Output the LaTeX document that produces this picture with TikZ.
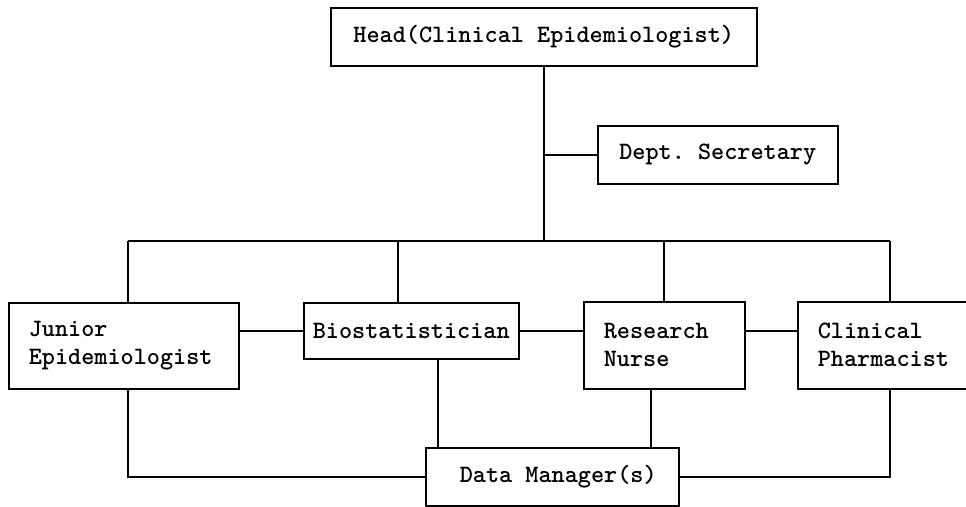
\documentclass[tikz,border=0pt]{standalone}
\usetikzlibrary{positioning}
\begin{document}
\begin{tikzpicture}[x=1pt,y=-1pt,line width=1.5pt,
  box/.style={draw,anchor=north west,inner xsep=20pt,inner ysep=0pt,
    font=\fontsize{25}{28}\selectfont\ttfamily\bfseries\frenchspacing}]
\useasboundingbox (0,0) rectangle (966,506);
\clip (0,0) rectangle (966,506);
% boxes
\node[box,minimum width=426pt,minimum height=58pt] (head) at (330,7) {Head(Clinical Epidemiologist)};
\node[box,minimum width=240pt,minimum height=58pt] (sec) at (597,125) {Dept. Secretary};
\node[box,text width=190pt,minimum height=86pt] (junior) at (8,302) {Junior\\Epidemiologist};
\node[box,inner xsep=0pt,minimum width=215pt,minimum height=56pt] (bio) at (303,302) {Biostatistician};
\node[box,text width=121pt,minimum height=87pt] (nurse) at (583,301) {Research\\Nurse};
\node[box,text width=140pt,minimum height=87pt] (pharm) at (797,301) {Clinical\\Pharmacist};
\node[box,inner xsep=0pt,minimum width=253pt,minimum height=58pt] (dm) at (425,447) {\hspace*{12pt}Data Manager(s)};
% bus
\coordinate (busL) at (128,241);
\coordinate (busR) at (890,241);
\coordinate (bioT) at (398,241);
\coordinate (nurseT) at (664,241);
\coordinate (bioB) at (438,358);
\coordinate (nurseB) at (651,388);
\draw (head.south) -- (head.south |- busL);
\draw (sec.west) -- (sec.west -| head.south);
\draw (busL) -- (busR);
\draw (busL) -- (busL |- junior.north);
\draw (bioT) -- (bioT |- bio.north);
\draw (nurseT) -- (nurseT |- nurse.north);
\draw (busR) -- (busR |- pharm.north);
% sideways
\draw (junior.east |- bio.west) -- (bio.west);
\draw (bio.east) -- (bio.east -| nurse.west);
\draw (bio.east -| nurse.east) -- (bio.east -| pharm.west);
% down to data manager
\draw (busL |- junior.south) -- (busL |- dm.west) -- (dm.west);
\draw (bioB) -- (bioB |- dm.north);
\draw (nurseB) -- (nurseB |- dm.north);
\draw (dm.east) -- (dm.east -| busR) -- (busR |- pharm.south);
\end{tikzpicture}
\end{document}
